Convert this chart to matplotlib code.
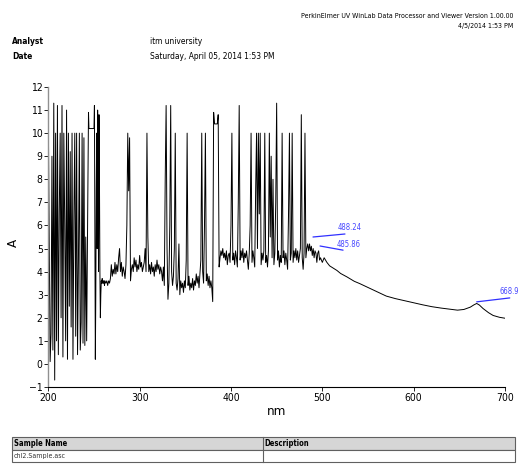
import numpy as np
import matplotlib
matplotlib.use("Agg")
import matplotlib.pyplot as plt
from matplotlib.patches import Rectangle
from matplotlib.lines import Line2D
from matplotlib import font_manager as fm

# ---------------- data ----------------
# noisy region 200-244 nm, sampled every 1 nm
abs_a1 = [10.7, 5.4, 0.1, 1.3, 9.0, 0.6, 11.3, -0.7, 10.0, 1.0,
          11.2, 0.4, 6.5, 10.0, 2.0, 11.2, 0.3, 10.0, 6.0, 1.0,
          11.0, 0.2, 10.0, 2.5, 9.2, 1.6, 10.0, 0.2, 6.3, 10.0,
          1.2, 10.0, 0.4, 4.5, 10.0, 0.6, 1.8, 10.0, 0.9, 9.8,
          0.8, 5.5, 1.0, 6.0, 10.9]
start_a1, step_a1 = 200.0, 1.0

# 244.5-262 nm, sampled every 0.5 nm (flat-topped saturation then spikes)
abs_a2 = [10.2, 10.2, 10.2, 10.2, 10.2, 10.2, 10.2, 10.2, 10.2, 10.2,
          10.2, 10.2, 11.2, 6.0, 0.2, 3.0, 7.5, 10.0, 5.0, 11.0,
          9.0, 4.0, 10.8, 8.0, 4.0, 2.0, 3.0, 3.6, 3.5, 3.7,
          3.5, 3.6, 3.5, 3.6, 3.4, 3.6]
start_a2, step_a2 = 244.5, 0.5

# region 263-500 nm, sampled every 1 nm
abs_b = [3.5, 3.6, 3.4, 3.6, 3.5, 3.7, 4.3, 3.8, 4.1, 3.9,
         4.4, 3.9, 4.3, 4.0, 4.6, 5.0, 4.0, 4.4, 3.8, 4.2,
         4.0, 3.7, 4.3, 6.0, 10.0, 7.5, 9.8, 3.6, 4.1, 4.3,
         4.0, 4.6, 4.2, 4.5, 4.0, 4.3, 4.1, 4.7, 4.2, 4.4,
         4.0, 4.2, 4.4, 5.0, 4.0, 10.0, 5.5, 4.0, 4.3, 3.9,
         4.4, 4.0, 4.2, 3.8, 4.3, 4.0, 4.5, 4.1, 4.3, 3.9,
         4.2, 4.0, 3.6, 4.2, 3.4, 8.0, 11.2, 5.0, 2.8, 3.5,
         6.0, 11.2, 4.0, 3.4, 3.8, 5.0, 10.0, 3.5, 3.2, 3.7,
         5.2, 3.0, 3.6, 3.3, 3.5, 3.1, 3.6, 3.3, 4.5, 10.0,
         3.4, 3.8, 3.2, 3.5, 3.3, 3.7, 3.2, 3.6, 3.4, 3.9,
         3.5, 3.8, 3.3, 3.9, 4.5, 10.0, 4.0, 3.5, 6.0, 10.0,
         3.6, 3.9, 3.4, 3.8, 3.3, 3.6, 3.3, 2.7, 10.9, 10.4,
         10.4, 10.4, 10.4, 10.8, 4.2, 4.6, 4.9, 4.7, 5.0, 4.6,
         4.8, 4.5, 4.9, 4.3, 4.7, 4.8, 4.4, 6.0, 10.0, 4.5,
         4.8, 4.3, 4.9, 4.6, 4.2, 7.0, 11.2, 4.5, 4.9, 4.6,
         5.0, 4.4, 4.8, 4.6, 4.9, 4.5, 4.1, 4.8, 6.0, 10.0,
         4.4, 4.9, 4.6, 4.2, 7.5, 10.0, 5.0, 10.0, 6.5, 10.0,
         4.3, 4.8, 4.5, 4.9, 10.0, 4.4, 4.7, 4.2, 4.9, 10.0,
         5.5, 9.0, 4.6, 8.0, 4.3, 4.8, 7.0, 11.3, 4.5, 4.9,
         4.2, 4.7, 4.4, 10.0, 4.6, 4.9, 4.3, 4.8, 4.5, 4.1,
         6.5, 10.0, 4.5, 4.8, 10.0, 4.4, 4.9, 4.6, 5.0, 4.5,
         4.9, 4.4, 4.7, 5.0, 10.8, 4.6, 4.1, 4.8, 10.0, 4.6,
         5.0, 5.2, 4.9, 5.2, 4.9, 5.1, 4.7, 5.0, 4.6, 4.9,
         4.8, 4.4, 4.8, 4.9, 4.5, 4.6, 4.5, 4.4]
start_b, step_b = 263.0, 1.0

# smooth tail 500-700 nm
wl_tail = [502, 505, 508, 512, 516, 520, 527, 535, 541, 549, 560, 570, 580,
           592, 600, 610, 620, 630, 640, 648, 655, 662, 666, 669, 672, 676,
           682, 687, 694, 700]
abs_tail = [4.6, 4.4, 4.25, 4.15, 4.05, 3.92, 3.77, 3.58, 3.48, 3.33, 3.12, 2.94,
            2.83, 2.72, 2.65, 2.56, 2.48, 2.42, 2.37, 2.33, 2.36, 2.46, 2.56,
            2.62, 2.55, 2.4, 2.22, 2.1, 2.02, 1.98]

# peak labels
peak_labels = ["488.24", "485.86", "668.9"]
peak_xy = [(489.8, 5.50), (497.5, 5.11), (669.0, 2.69)]
peak_end_xy = [(524.8, 5.63), (522.7, 4.93), (705.2, 2.86)]
peak_text_xy = [(517.2, 5.93), (515.7, 5.19), (694.5, 3.16)]

x_ticks = [200, 300, 400, 500, 600, 700]
y_ticks = list(range(-1, 13))

header_right = ["PerkinElmer UV WinLab Data Processor and Viewer Version 1.00.00",
                "4/5/2014 1:53 PM"]
header_keys = ["Analyst", "Date"]
header_vals = ["itm university", "Saturday, April 05, 2014 1:53 PM"]
table_cols = ["Sample Name", "Description"]
table_rows = [["chl2.Sample.asc", ""]]

# ---------------- fonts ----------------
def find_narrow(bold):
    best, best_score = None, -1
    for f in fm.fontManager.ttflist:
        name, fname = f.name.lower(), f.fname.lower()
        narrow = ("narrow" in name or "condensed" in name or "narrow" in fname
                  or "condensed" in fname or str(f.stretch) in ("condensed", "semi-condensed"))
        if not narrow:
            continue
        if "italic" in fname or "oblique" in fname:
            continue
        w = f.weight
        if isinstance(w, str):
            w = fm.weight_dict.get(w, 400)
        if (w >= 600) != bold:
            continue
        score = 1
        if "liberation" in fname:
            score = 3
        elif "dejavu" in fname:
            score = 2
        if score > best_score:
            best, best_score = f.fname, score
    return best

NARROW_R = find_narrow(False)
NARROW_B = find_narrow(True)

def fp(size, bold=False):
    path = NARROW_B if bold else NARROW_R
    if path:
        p = fm.FontProperties(fname=path)
    else:
        p = fm.FontProperties(family=["Liberation Sans", "DejaVu Sans"],
                              weight="bold" if bold else "normal")
    p.set_size(size if path else size * 0.85)
    return p

# ---------------- figure ----------------
W, H = 520, 470
fig = plt.figure(figsize=(W / 100, H / 100), dpi=100)
fig.patch.set_facecolor("white")

def fx(px):
    return px / W

def fy(py):
    return 1 - py / H

ax = fig.add_axes([fx(48.3), fy(387), fx(505) - fx(48.3), fy(87) - fy(387)])

wl_a1 = start_a1 + step_a1 * np.arange(len(abs_a1))
wl_a2 = start_a2 + step_a2 * np.arange(len(abs_a2))
wl_b = start_b + step_b * np.arange(len(abs_b))
wl = np.concatenate([wl_a1, wl_a2, wl_b, np.array(wl_tail, float)])
ab = np.concatenate([abs_a1, abs_a2, abs_b, abs_tail])
ax.plot(wl, ab, color="black", lw=0.7)

ax.set_xlim(200, 700)
ax.set_ylim(-1, 12)
ax.set_xticks(x_ticks)
ax.set_yticks(y_ticks)
ax.spines['top'].set_visible(False)
ax.spines['right'].set_visible(False)
ax.spines['left'].set_color("#909090")
ax.spines['left'].set_linewidth(1.0)
ax.spines['bottom'].set_color("black")
ax.spines['bottom'].set_linewidth(0.8)
ax.tick_params(direction="out", length=3, width=0.6, pad=1)
for lbl in ax.get_xticklabels() + ax.get_yticklabels():
    lbl.set_fontproperties(fp(7.5))
ax.set_xlabel("nm", fontproperties=fp(9.5), labelpad=2)
ax.set_ylabel("A", fontproperties=fp(9.5))
ax.yaxis.set_label_coords((20 - 48.3) / (505 - 48.3), (387 - 243) / 300.0)

for lab, xy, exy, txy in zip(peak_labels, peak_xy, peak_end_xy, peak_text_xy):
    ax.annotate("", xy=xy, xytext=exy,
                arrowprops=dict(arrowstyle="-", color="#3030ff", lw=0.9,
                                shrinkA=0, shrinkB=0))
    ax.text(txy[0], txy[1], lab, color="#4848ff", fontproperties=fp(5.5),
            ha="left", va="center", clip_on=False)

# header
fig.text(fx(513), fy(16), header_right[0], fontproperties=fp(5), ha="right", va="center")
fig.text(fx(513), fy(26), header_right[1], fontproperties=fp(5), ha="right", va="center")
for i, (k, v) in enumerate(zip(header_keys, header_vals)):
    yy = fy(41.5 + 15 * i)
    fig.text(fx(12), yy, k, fontproperties=fp(6, True), ha="left", va="center")
    fig.text(fx(150), yy, v, fontproperties=fp(6), ha="left", va="center")

# table
tx0, tx1, tdiv = 11.7, 515, 263.3
ty0, ty1, ty2 = 437, 450, 462
fig.add_artist(Rectangle((fx(tx0), fy(ty1)), fx(tx1) - fx(tx0), fy(ty0) - fy(ty1),
                         transform=fig.transFigure, facecolor="#d6d6d6",
                         edgecolor="#606060", lw=0.8))
fig.add_artist(Rectangle((fx(tx0), fy(ty2)), fx(tx1) - fx(tx0), fy(ty1) - fy(ty2),
                         transform=fig.transFigure, facecolor="white",
                         edgecolor="#606060", lw=0.8))
fig.add_artist(Line2D([fx(tdiv), fx(tdiv)], [fy(ty0), fy(ty2)],
                      transform=fig.transFigure, color="#606060", lw=0.8))
fig.text(fx(13.5), fy(443.5), table_cols[0], fontproperties=fp(5.5, True),
         ha="left", va="center")
fig.text(fx(tdiv + 1.5), fy(443.5), table_cols[1], fontproperties=fp(5.5, True),
         ha="left", va="center")
for r, row in enumerate(table_rows):
    fig.text(fx(13.5), fy(456 + 12 * r), row[0], fontproperties=fp(5),
             ha="left", va="center", color="#333333")
    fig.text(fx(tdiv + 1.5), fy(456 + 12 * r), row[1], fontproperties=fp(5),
             ha="left", va="center")

fig.savefig("out.png", dpi=100, facecolor="white")
